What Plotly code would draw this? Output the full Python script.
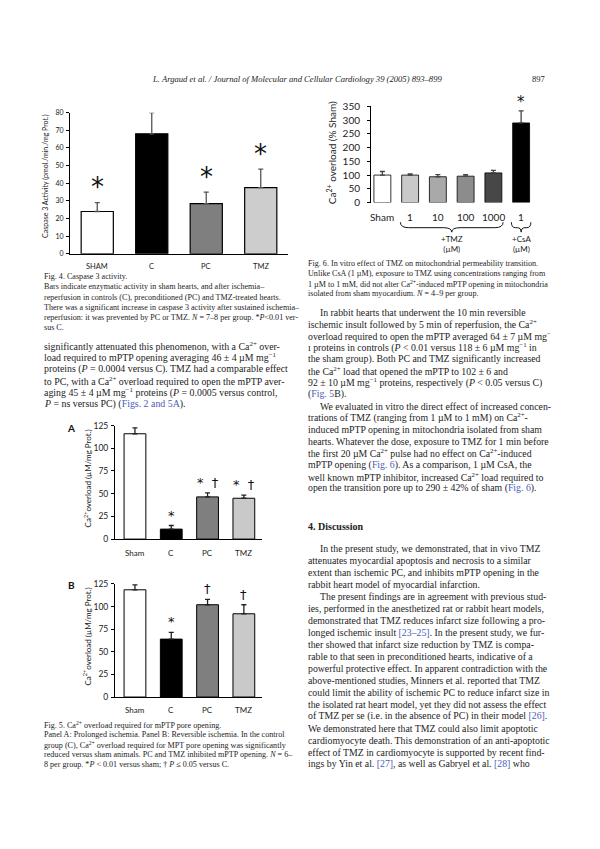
import plotly.graph_objects as go

W, H = 600, 849
OFF = 8  # the page body adds an 8px margin around the figure; compensate for it
def px(x): return (x - OFF) / W
def py(y): return 1 - (y - OFF) / H

SERIF = "Liberation Serif"
SANS = "Lato"
TXT = "#1c1c1c"
LINK = "#4a5cb8"

# ---------------- data ----------------
# Fig. 4 caspase 3 activity
f4_categories = ["SHAM", "C", "PC", "TMZ"]
f4_values = [24, 68, 28.5, 37.5]
f4_errors = [5, 12, 6.5, 10.5]
f4_marks = ["*", "", "*", "*"]
f4_colors = ["#ffffff", "#000000", "#7f7f7f", "#cdcdcd"]
f4_yticks = [0, 10, 20, 30, 40, 50, 60, 70, 80]

# Fig. 6 in vitro TMZ
f6_categories = ["Sham", "1", "10", "100", "1000", "1"]
f6_values = [100, 100, 94, 96, 108, 290]
f6_errors = [13, 4, 8, 6, 9, 44]
f6_marks = ["", "", "", "", "", "*"]
f6_colors = ["#ffffff", "#c9c9c9", "#a9a9a9", "#8c8c8c", "#474747", "#000000"]
f6_yticks = [0, 50, 100, 150, 200, 250, 300, 350]
f6_groups = ["+TMZ<br>(µM)", "+CsA<br>(µM)"]
f6_group_spans = [(1, 4), (5, 5)]

# Fig. 5 Ca2+ overload
f5_categories = ["Sham", "C", "PC", "TMZ"]
f5a_values = [116, 11, 46.5, 45]
f5a_errors = [6.5, 4, 4.5, 3.5]
f5a_marks = ["", "*", "*  †", "*  †"]
f5b_values = [118.5, 64, 102, 92]
f5b_errors = [5.5, 7.5, 6, 10]
f5b_marks = ["", "*", "†", "†"]
f5_colors = ["#ffffff", "#000000", "#7f7f7f", "#c9c9c9"]
f5_yticks = [0, 25, 50, 75, 100, 125]

# ---------------- text ----------------
header = "<i>L. Argaud et al. / Journal of Molecular and Cellular Cardiology 39 (2005) 893–899</i>"
page_no = "897"

fig4_caption = [
    "Fig. 4. Caspase 3 activity.",
    "Bars indicate enzymatic activity in sham hearts, and after ischemia–",
    "reperfusion in controls (C), preconditioned (PC) and TMZ-treated hearts.",
    "There was a significant increase in caspase 3 activity after sustained ischemia–",
    "reperfusion: it was prevented by PC or TMZ. <i>N</i> = 7–8 per group. *<i>P</i><0.01 ver-",
    "sus C.",
]
left_body = [
    "significantly attenuated this phenomenon, with a Ca<sup>2+</sup> over-",
    "load required to mPTP opening averaging 46 ± 4 µM mg<sup>−1</sup>",
    "proteins (<i>P</i> = 0.0004 versus C). TMZ had a comparable effect",
    "to PC, with a Ca<sup>2+</sup> overload required to open the mPTP aver-",
    "aging 45 ± 4 µM mg<sup>−1</sup> proteins (<i>P</i> = 0.0005 versus control,",
    "<i>P</i> = ns versus PC) (<span style='color:" + LINK + "'>Figs. 2 and 5A</span>).",
]
fig5_caption = [
    "Fig. 5. Ca<sup>2+</sup> overload required for mPTP pore opening.",
    "Panel A: Prolonged ischemia. Panel B: Reversible ischemia. In the control",
    "group (C), Ca<sup>2+</sup> overload required for MPT pore opening was significantly",
    "reduced versus sham animals. PC and TMZ inhibited mPTP opening. <i>N</i> = 6–",
    "8 per group. *<i>P</i> < 0.01 versus sham; † <i>P</i> ≤ 0.05 versus C.",
]
fig6_caption = [
    "Fig. 6. In vitro effect of TMZ on mitochondrial permeability transition.",
    "Unlike CsA (1 µM), exposure to TMZ using concentrations ranging from",
    "1 µM to 1 mM, did not alter Ca<sup>2+</sup>-induced mPTP opening in mitochondria",
    "isolated from sham myocardium. <i>N</i> = 4–9 per group.",
]
right_body = [
    (True, "In rabbit hearts that underwent the 10 min reversible"),
    (False, "ischemic insult followed by 5 min of reperfusion, the Ca<sup>2+</sup>"),
    (False, "overload required to open the mPTP averaged 64 ± 7 µM mg<sup>−</sup>"),
    (False, "ı proteins in controls (<i>P</i> < 0.01 versus 118 ± 6 µM mg<sup>−1</sup> in"),
    (False, "the sham group). Both PC and TMZ significantly increased"),
    (False, "the Ca<sup>2+</sup> load that opened the mPTP to 102 ± 6 and"),
    (False, "92 ± 10 µM mg<sup>−1</sup> proteins, respectively (<i>P</i> < 0.05 versus C)"),
    (False, "(<span style='color:" + LINK + "'>Fig. 5</span>B)."),
    (True, "We evaluated in vitro the direct effect of increased concen-"),
    (False, "trations of TMZ (ranging from 1 µM to 1 mM) on Ca<sup>2+</sup>-"),
    (False, "induced mPTP opening in mitochondria isolated from sham"),
    (False, "hearts. Whatever the dose, exposure to TMZ for 1 min before"),
    (False, "the first 20 µM Ca<sup>2+</sup> pulse had no effect on Ca<sup>2+</sup>-induced"),
    (False, "mPTP opening (<span style='color:" + LINK + "'>Fig. 6</span>). As a comparison, 1 µM CsA, the"),
    (False, "well known mPTP inhibitor, increased Ca<sup>2+</sup> load required to"),
    (False, "open the transition pore up to 290 ± 42% of sham (<span style='color:" + LINK + "'>Fig. 6</span>)."),
]
section_title = "<b>4. Discussion</b>"
discussion = [
    (True, "In the present study, we demonstrated, that in vivo TMZ"),
    (False, "attenuates myocardial apoptosis and necrosis to a similar"),
    (False, "extent than ischemic PC, and inhibits mPTP opening in the"),
    (False, "rabbit heart model of myocardial infarction."),
    (True, "The present findings are in agreement with previous stud-"),
    (False, "ies, performed in the anesthetized rat or rabbit heart models,"),
    (False, "demonstrated that TMZ reduces infarct size following a pro-"),
    (False, "longed ischemic insult <span style='color:" + LINK + "'>[23–25]</span>. In the present study, we fur-"),
    (False, "ther showed that infarct size reduction by TMZ is compa-"),
    (False, "rable to that seen in preconditioned hearts, indicative of a"),
    (False, "powerful protective effect. In apparent contradiction with the"),
    (False, "above-mentioned studies, Minners et al. reported that TMZ"),
    (False, "could limit the ability of ischemic PC to reduce infarct size in"),
    (False, "the isolated rat heart model, yet they did not assess the effect"),
    (False, "of TMZ per se (i.e. in the absence of PC) in their model <span style='color:" + LINK + "'>[26]</span>."),
    (False, "We demonstrated here that TMZ could also limit apoptotic"),
    (False, "cardiomyocyte death. This demonstration of an anti-apoptotic"),
    (False, "effect of TMZ in cardiomyocyte is supported by recent find-"),
    (False, "ings by Yin et al. <span style='color:" + LINK + "'>[27]</span>, as well as Gabryel et al. <span style='color:" + LINK + "'>[28]</span> who"),
]

# ---------------- figure ----------------
fig = go.Figure()
annotations = []
shapes = []

def suffix(n):
    return "" if n == 1 else str(n)

def add_chart(n, cats, vals, errs, colors, marks, err_color, width, mark_size, mark_pad, line_w):
    idx = list(range(len(cats)))
    fig.add_trace(go.Bar(
        x=idx, y=vals, width=width, xaxis="x" + suffix(n), yaxis="y" + suffix(n),
        marker=dict(color=colors, line=dict(color="#000000", width=line_w)),
        error_y=dict(type="data", array=errs, arrayminus=[0] * len(errs), symmetric=False,
                     color=err_color, thickness=1.3, width=2.5),
        showlegend=False, hoverinfo="skip"))
    for i, m in enumerate(marks):
        if m:
            annotations.append(dict(xref="x" + suffix(n), yref="y" + suffix(n),
                                    x=i, y=vals[i] + errs[i] + mark_pad, text=m, showarrow=False,
                                    xanchor="center", yanchor="bottom",
                                    font=dict(size=mark_size, family="DejaVu Sans", color="#111")))

def cat_labels(n, cats, y, size):
    for i, c in enumerate(cats):
        annotations.append(dict(xref="x" + suffix(n), yref="paper", x=i, y=py(y), text=c,
                                showarrow=False, xanchor="center", yanchor="middle",
                                font=dict(size=size, family=SANS, color="#222")))

add_chart(1, f4_categories, f4_values, f4_errors, f4_colors, f4_marks, "#555", 0.59, 26, -1, 1.2)
add_chart(2, f6_categories, f6_values, f6_errors, f6_colors, f6_marks, "#444", 0.61, 15, -7, 0.8)
add_chart(3, f5_categories, f5a_values, f5a_errors, f5_colors, f5a_marks, "#222", 0.6, 13, 1, 1)
add_chart(4, f5_categories, f5b_values, f5b_errors, f5_colors, f5b_marks, "#222", 0.6, 13, 1, 1)

cat_labels(1, f4_categories, 264, 7.5)
cat_labels(2, f6_categories, 213.5, 10)
cat_labels(3, f5_categories, 554, 8)
cat_labels(4, f5_categories, 713, 8)

def yax(dom_top, dom_bot, rng, ticks, size, standoff, anchor):
    return dict(domain=[py(dom_bot), py(dom_top)], range=rng, tickvals=ticks, showgrid=False, zeroline=False,
                showline=True, linecolor="#000", linewidth=1, ticks="outside", ticklen=3, tickcolor="#000",
                tickfont=dict(size=size, family=SANS, color="#222"), ticklabelstandoff=standoff,
                anchor=anchor, fixedrange=True)

def xax(left, right, rng, anchor, line):
    return dict(domain=[px(left), px(right)], range=rng, anchor=anchor, showgrid=False, zeroline=False,
                showline=line, linecolor="#000", linewidth=1, ticks="", showticklabels=False, fixedrange=True)

layout = dict(
    width=W, height=H, margin=dict(l=0, r=0, t=0, b=0),
    paper_bgcolor="#ffffff", plot_bgcolor="rgba(0,0,0,0)", bargap=0.4,
    xaxis=xax(70, 288, [-0.5, 3.5], "y", True),
    yaxis=yax(108, 251, [0, 80], f4_yticks, 7, 1, "x"),
    xaxis2=xax(371, 535, [-0.41, 5.5], "y2", False),
    yaxis2=yax(101.7, 199, [0, 350], f6_yticks, 10, 5, "x2"),
    xaxis3=xax(115, 262, [-0.55, 3.5], "y3", True),
    yaxis3=yax(425, 540, [0, 125], f5_yticks, 8.5, 1, "x3"),
    xaxis4=xax(115, 262, [-0.55, 3.5], "y4", True),
    yaxis4=yax(585.4, 700, [0, 125], f5_yticks, 8.5, 1, "x4"),
)

def free_text(x, y, s, size, family=SANS, angle=0, color="#222", xa="center", ya="middle"):
    annotations.append(dict(xref="paper", yref="paper", x=px(x), y=py(y), text=s, textangle=angle,
                            showarrow=False, xanchor=xa, yanchor=ya,
                            font=dict(size=size, family=family, color=color)))

# axis titles and panel letters
free_text(46, 172, "Caspase 3 Activity (pmol./min./mg Prot.)", 7, angle=-90)
free_text(331, 149, "Ca<sup>2+</sup> overload (% Sham)", 10, angle=-90)
for top, bot in [(425, 540), (585.4, 700)]:
    free_text(87, (top + bot) / 2 - 4, "Ca<sup>2+</sup>overload (µM/mg Prot.)", 8, angle=-90)
free_text(71, 427, "<b>A</b>", 10, color="#111")
free_text(71, 587, "<b>B</b>", 10, color="#111")

# braces for Fig. 6 groups
y_top, y_mid, y_tip = py(219), py(224.5), py(229)
for (a, b), label in zip(f6_group_spans, f6_groups):
    pad = 0.35
    x0, x1 = a - pad, b + pad
    xm = (x0 + x1) / 2
    r = min(0.3, (x1 - x0) / 5)
    path = (f"M {x0},{y_top} Q {x0},{y_mid} {x0 + r},{y_mid} L {xm - r},{y_mid} Q {xm},{y_mid} {xm},{y_tip} "
            f"Q {xm},{y_mid} {xm + r},{y_mid} L {x1 - r},{y_mid} Q {x1},{y_mid} {x1},{y_top}")
    shapes.append(dict(type="path", xref="x2", yref="paper", path=path, line=dict(color="#111", width=1)))
    annotations.append(dict(xref="x2", yref="paper", x=xm, y=py(229), xanchor="center", yanchor="top",
                            text=label, showarrow=False, font=dict(size=8, family=SANS, color="#222")))

def text_line(x, y, s, size, family=SERIF, anchor="left", color=TXT):
    free_text(x, y, s, size, family=family, color=color, xa=anchor)

text_line(297, 74, header, 8.6, anchor="center")
text_line(548, 74, page_no, 8.6, anchor="right")

for i, s in enumerate(fig4_caption):
    text_line(42, 274 + 10.4 * i, s, 8.1)
for i, s in enumerate(left_body):
    text_line(42, 344 + 11.9 * i, s, 9.9)
for i, s in enumerate(fig5_caption):
    text_line(42, 728 + 10.2 * i, s, 8.1)
for i, s in enumerate(fig6_caption):
    text_line(306, 261 + 10.1 * i, s, 8.1)
for i, (ind, s) in enumerate(right_body):
    text_line(318 if ind else 306, 310 + 11.9 * i, s, 9.8)
text_line(306, 527, section_title, 10)
for i, (ind, s) in enumerate(discussion):
    text_line(318 if ind else 306, 550 + 12.1 * i, s, 9.8)

layout["annotations"] = annotations
layout["shapes"] = shapes
fig.update_layout(**layout)
fig.write_html("out.html")
